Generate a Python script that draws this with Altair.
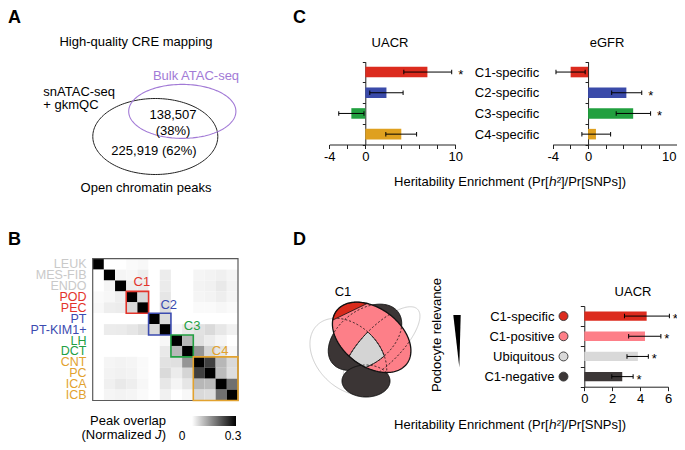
import math
import altair as alt
import pandas as pd

FONT = "Liberation Sans, Arial, Helvetica, sans-serif"
W, H = 669, 434          # plot area (page adds an 8px margin)
M = 8                    # image px -> chart px offset

# ======================= DATA =======================
# ---- Panel A (Venn counts) ----
a_title = "High-quality CRE mapping"
a_sn_label = ["snATAC-seq", "+ gkmQC"]
a_bulk_label = "Bulk ATAC-seq"
a_overlap = ["138,507", "(38%)"]
a_only = "225,919 (62%)"
a_footer = "Open chromatin peaks"

# ---- Panel B (peak overlap heatmap) ----
cell_types = ["LEUK", "MES-FIB", "ENDO", "POD", "PEC", "PT", "PT-KIM1+",
              "LH", "DCT", "CNT", "PC", "ICA", "ICB"]
cell_groups = ["none", "none", "none", "C1", "C1", "C2", "C2",
               "C3", "C3", "C4", "C4", "C4", "C4"]
overlap = [
    [1.0, 0.0, 0.0, .006, .008, 0.0, 0.0, 0.0, 0.0, 0.0, 0.0, 0.0, 0.0],
    [0.0, 1.0, .012, .010, .020, 0.0, .022, 0.0, 0.0, .012, .014, .018, .012],
    [0.0, .012, 1.0, .020, .022, 0.0, .024, 0.0, 0.0, .014, .016, .026, .014],
    [.006, .010, .020, 1.0, .046, 0.0, .030, 0.0, 0.0, .012, .014, .020, .012],
    [.008, .020, .022, .046, 1.0, 0.0, .040, 0.0, 0.0, .006, .006, .010, .006],
    [0.0, 0.0, 0.0, 0.0, 0.0, 1.0, .042, 0.0, 0.0, 0.0, 0.0, 0.0, 0.0],
    [0.0, .022, .024, .030, .040, .042, 1.0, .010, .026, .034, .044, .028, .016],
    [0.0, 0.0, 0.0, 0.0, 0.0, 0.0, .010, 1.0, .084, .036, .022, .012, 0.0],
    [0.0, 0.0, 0.0, 0.0, 0.0, 0.0, .026, .084, 1.0, .125, .050, .030, .008],
    [0.0, .012, .014, .012, .006, 0.0, .034, .036, .125, 1.0, .225, .085, .045],
    [0.0, .014, .016, .014, .006, 0.0, .044, .022, .050, .225, 1.0, .080, .040],
    [0.0, .018, .026, .020, .010, 0.0, .028, .012, .030, .085, .080, 1.0, .168],
    [0.0, .012, .014, .012, .006, 0.0, .016, 0.0, .008, .045, .040, .168, 1.0],
]
clusters = ["C1", "C2", "C3", "C4"]
cluster_start = [3, 5, 7, 9]
cluster_end = [5, 7, 9, 13]
legend_domain = [0, 0.3]
legend_labels = ["0", "0.3"]

# ---- Panel C (heritability enrichment by cluster) ----
c_cats = ["C1-specific", "C2-specific", "C3-specific", "C4-specific"]
uacr_est = [6.90, 2.35, -1.55, 4.00]
uacr_lo = [4.28, 0.50, -2.95, 2.28]
uacr_hi = [9.60, 4.20, -0.15, 5.70]
uacr_sig = [True, False, False, False]
egfr_est = [-1.97, 4.33, 5.10, 0.89]
egfr_lo = [-3.63, 2.67, 3.18, -0.70]
egfr_hi = [-0.33, 6.07, 7.07, 2.55]
egfr_sig = [False, True, True, False]
c_ticks = [-4, -2, 0, 2, 4, 6, 8, 10]
c_tick_labels = [-4, 0, 10]

# ---- Panel D (podocyte relevance) ----
d_cats = ["C1-specific", "C1-positive", "Ubiquitous", "C1-negative"]
d_est = [4.47, 4.35, 3.84, 2.72]
d_lo = [2.88, 3.18, 3.06, 1.97]
d_hi = [6.10, 5.49, 4.59, 3.50]
d_sig = [True, True, True, True]
d_ticks = [0, 2, 4, 6]

x_title = "Heritability Enrichment (Pr[\u210e\u00b2]/Pr[SNPs])"

# ======================= STYLE =======================
C_COLORS = ["#dc2b1e", "#3a4aa9", "#21a03f", "#dfa01f"]
D_COLORS = ["#dc2b1e", "#fd7f88", "#d9d9d9", "#3c3737"]
GROUP_COLORS = {"none": "#c9c9c9", "C1": "#e3342b", "C2": "#3b4bb0",
                "C3": "#22a042", "C4": "#e2a22e"}
CLUSTER_LABEL_POS = [(4.4, 2.1), (6.8, 4.2), (8.9, 6.2), (11.4, 8.5)]
PURPLE = "#a27ad6"
DARK = "#3b3535"
PINK = "#fd7f88"
RED = "#d92b1c"

ONE = pd.DataFrame({"k": [0]})


def txt(s, x, y, size=13, align="center", color="#000000", weight="normal",
        style="normal", angle=0, baseline="middle"):
    kw = dict(text=s, font=FONT, fontSize=size, align=align, baseline=baseline,
              color=color, fontWeight=weight, fontStyle=style)
    if angle:
        kw["angle"] = angle
    return alt.Chart(ONE).mark_text(**kw).encode(x=alt.value(x - M), y=alt.value(y - M))


# ---------------- geometry helpers for the schematic shapes ----------------
def ell_pts(e, n=240):
    cx, cy, a, b, ang = e
    t = math.radians(ang)
    c, s = math.cos(t), math.sin(t)
    out = []
    for i in range(n):
        th = 2 * math.pi * i / n
        x, y = a * math.cos(th), b * math.sin(th)
        out.append((cx + x * c - y * s, cy + x * s + y * c))
    return out


def inside(e, p, tol=0.0):
    cx, cy, a, b, ang = e
    t = math.radians(ang)
    c, s = math.cos(t), math.sin(t)
    dx, dy = p[0] - cx, p[1] - cy
    u = dx * c + dy * s
    v = -dx * s + dy * c
    return (u / a) ** 2 + (v / b) ** 2 <= 1.0 + tol


def intersect(ells, n=480):
    pts = []
    for i, e in enumerate(ells):
        for p in ell_pts(e, n):
            if all(inside(f, p, 1e-9) for j, f in enumerate(ells) if j != i):
                pts.append(p)
    if not pts:
        return []
    mx = sum(p[0] for p in pts) / len(pts)
    my = sum(p[1] for p in pts) / len(pts)
    pts.sort(key=lambda p: math.atan2(p[1] - my, p[0] - mx))
    return pts


def runs_where(pts, cond):
    flags = [cond(p) for p in pts]
    if all(flags):
        return [pts + [pts[0]]]
    k = flags.index(False)
    pts = pts[k:] + pts[:k]
    flags = flags[k:] + flags[:k]
    runs, cur = [], []
    for p, f in zip(pts, flags):
        if f:
            cur.append(p)
        elif cur:
            runs.append(cur)
            cur = []
    if cur:
        runs.append(cur)
    return [r for r in runs if len(r) > 1]


def path_from(polys, anchor, scale, closed=True):
    parts = []
    for poly in polys:
        seg = "M " + " L ".join(
            f"{(x - anchor[0]) / scale:.4f} {(y - anchor[1]) / scale:.4f}" for x, y in poly)
        if closed:
            seg += " Z"
        parts.append(seg)
    return " ".join(parts)


def shape_layer(path, anchor, scale, fill=None, stroke=None, sw=1.0, dash=None):
    kw = dict(shape=path, size=(2 * scale) ** 2, opacity=1)
    if fill:
        kw.update(filled=True, fill=fill)
    else:
        kw.update(filled=False)
    if stroke:
        kw.update(stroke=stroke, strokeWidth=sw)
    else:
        kw.update(strokeWidth=0)
    if dash:
        kw["strokeDash"] = dash
    return alt.Chart(ONE).mark_point(**kw).encode(
        x=alt.value(anchor[0] - M), y=alt.value(anchor[1] - M))


layers = []

# ======================= PANEL A =======================
layers += [
    txt("A", 8, 22.5, size=18, align="left", weight="bold", baseline="alphabetic"),
    txt(a_title, 136, 42),
    txt(a_sn_label[0], 43.3, 91.7, align="left"),
    txt(a_sn_label[1], 43.3, 105, align="left"),
    txt(a_bulk_label, 196, 76, color=PURPLE),
]
A_BLACK = (155.3, 136.5, 62.5, 38.0, 0)
A_PURPLE = (182.3, 111.4, 53.6, 27.0, 0)
for e, col, sw in [(A_BLACK, "#222222", 1.0), (A_PURPLE, PURPLE, 1.1)]:
    anc = (e[0], e[1])
    layers.append(shape_layer(path_from([ell_pts(e, 160)], anc, e[2]), anc, e[2],
                              stroke=col, sw=sw))
layers += [
    txt(a_overlap[0], 173, 115),
    txt(a_overlap[1], 173, 131),
    txt(a_only, 154, 151),
    txt(a_footer, 146, 188),
]

# ======================= PANEL B =======================
n = len(cell_types)
hm_df = pd.DataFrame([
    {"row": cell_types[i], "col": cell_types[j], "x0": j, "x1": j + 1,
     "y0": i, "y1": i + 1, "v": overlap[i][j]}
    for i in range(n) for j in range(n)])
rows_df = pd.DataFrame({"name": cell_types, "group": cell_groups, "idx": list(range(n))})
cl_df = pd.DataFrame({"cluster": clusters, "s": cluster_start, "e": cluster_end,
                      "lx": [p[0] for p in CLUSTER_LABEL_POS],
                      "ly": [p[1] for p in CLUSTER_LABEL_POS]})
frame_df = pd.DataFrame({"s": [0], "e": [n]})

hm_x = alt.Scale(domain=[0, n], range=[92.7 - M, 238.0 - M], nice=False, zero=False)
hm_y = alt.Scale(domain=[0, n], range=[258.7 - M, 400.5 - M], nice=False, zero=False)
HX = lambda f: alt.X(f, scale=hm_x, axis=None)
HY = lambda f: alt.Y(f, scale=hm_y, axis=None)

hm_layers = [
    alt.Chart(hm_df).mark_rect().encode(
        x=HX("x0:Q"), x2="x1:Q", y=HY("y0:Q"), y2="y1:Q",
        color=alt.Color("v:Q", scale=alt.Scale(domain=legend_domain, range=["#ffffff", "#000000"],
                                               clamp=True, interpolate="rgb"), legend=None)),
    alt.Chart(frame_df).mark_rect(fillOpacity=0, stroke="#5a5a5a", strokeWidth=1.2).encode(
        x=HX("s:Q"), x2="e:Q", y=HY("s:Q"), y2="e:Q"),
]
for g, col in GROUP_COLORS.items():
    hm_layers.append(
        alt.Chart(rows_df).transform_filter(alt.datum.group == g)
        .transform_calculate(yc="datum.idx + 0.5")
        .mark_text(align="right", baseline="middle", font=FONT, fontSize=12.5, color=col)
        .encode(x=alt.value(86.5 - M), y=HY("yc:Q"), text="name:N"))
for cl in clusters:
    col = GROUP_COLORS[cl]
    hm_layers.append(
        alt.Chart(cl_df).transform_filter(alt.datum.cluster == cl)
        .mark_rect(fillOpacity=0, stroke=col, strokeWidth=1.6)
        .encode(x=HX("s:Q"), x2="e:Q", y=HY("s:Q"), y2="e:Q"))
    hm_layers.append(
        alt.Chart(cl_df).transform_filter(alt.datum.cluster == cl)
        .mark_text(font=FONT, fontSize=13, color=col, baseline="middle")
        .encode(x=HX("lx:Q"), y=HY("ly:Q"), text="cluster:N"))
layers.append(alt.layer(*hm_layers))

# colour legend (gradient of the heatmap scale)
layers += [
    alt.Chart(ONE).mark_rect(color=alt.LinearGradient(
        gradient="linear",
        stops=[alt.GradientStop(color="#ffffff", offset=0), alt.GradientStop(color="#000000", offset=1)],
        x1=0, x2=1, y1=0, y2=0)).encode(
        x=alt.value(192 - M), x2=alt.value(236 - M), y=alt.value(416 - M), y2=alt.value(426 - M)),
    txt("B", 8, 245, size=18, align="left", weight="bold", baseline="alphabetic"),
    txt("Peak overlap", 166, 421, align="right"),
    txt("(Normalized", 151.5, 435, align="right"),
    txt("J", 158.3, 435, style="italic"),
    txt(")", 161.7, 435, align="left"),
    txt(legend_labels[0], 182, 436, size=12),
    txt(legend_labels[1], 233, 436, size=12),
]


# ======================= BAR PANELS =======================
def bar_panel(cats, est, lo, hi, sig, colors, x_dom, x_px, y_px, ticks, shown, band,
              ykw, star_dx, tick_y=3):
    df = pd.DataFrame({"cat": cats, "est": est, "lo": lo, "hi": hi, "sig": sig})
    xs = alt.Scale(domain=x_dom, range=[x_px[0] - M, x_px[1] - M], nice=False, zero=False)
    ys = alt.Scale(domain=cats, range=[y_px[0] - M, y_px[1] - M], paddingInner=0, paddingOuter=0)
    zero_px = x_px[0] + (0 - x_dom[0]) / (x_dom[1] - x_dom[0]) * (x_px[1] - x_px[0])
    test = " || ".join(f"datum.value == {v}" for v in shown)
    xaxis = alt.Axis(orient="bottom", offset=(y_px[1] - M) - H, values=ticks,
                     labelExpr=f"({test}) ? replace(datum.label, '\u2212', '-') : ''",
                     title=None, tickSize=4, labelPadding=2, labelFontSize=13, labelFont=FONT,
                     labelColor="#000000", domainColor="#222222", tickColor="#222222",
                     grid=False, labelFlush=False, labelOverlap=False)
    yaxis = alt.Axis(orient="left", offset=-(zero_px - M), title=None, tickBand="extent",
                     tickSize=tick_y, domainColor="#222222", tickColor="#222222", grid=False,
                     labelFont=FONT, labelFontSize=13, labelColor="#000000", **ykw)
    X = lambda f: alt.X(f, scale=xs, axis=xaxis)
    Y = alt.Y("cat:N", scale=ys, axis=yaxis)
    color = alt.Color("cat:N", scale=alt.Scale(domain=cats, range=colors), legend=None)
    bars = alt.Chart(df).mark_bar(height=alt.RelativeBandSize(band=band)).encode(
        x=X("est:Q"), x2=alt.X2(datum=0), y=Y, color=color)
    rule = alt.Chart(df).mark_rule(color="#000000", strokeWidth=1).encode(
        x=X("lo:Q"), x2=alt.X2("hi:Q"), y=Y)
    caps = alt.Chart(df).transform_fold(["lo", "hi"], as_=["kind", "val"]).mark_tick(
        orient="vertical", size=4.5, thickness=1, color="#000000", opacity=1).encode(
        x=X("val:Q"), y=Y)
    stars = alt.Chart(df).transform_filter("datum.sig").mark_text(
        text="*", dx=star_dx, dy=3, fontSize=13, font=FONT, color="#000000").encode(
        x=X("hi:Q"), y=Y)
    return [bars, rule, caps, stars], df, Y, color


# ---- Panel C ----
EGFR_X = [552.7, 676.5]
uacr, _, _, _ = bar_panel(c_cats, uacr_est, uacr_lo, uacr_hi, uacr_sig, C_COLORS,
                          [-4, 10], [329.3, 455.3], [61.7, 144.5], c_ticks, c_tick_labels,
                          0.51, dict(labels=False), 9)
egfr, _, _, _ = bar_panel(c_cats, egfr_est, egfr_lo, egfr_hi, egfr_sig, C_COLORS,
                          [-4, 10], EGFR_X, [61.7, 144.5], c_ticks, c_tick_labels[:-1],
                          0.51, dict(labels=True, labelAlign="left", labelPadding=110.7,
                                     labelBaseline="middle"), 9)
layers += [alt.layer(*uacr), alt.layer(*egfr)]
layers += [
    # right-most eGFR tick label, right-aligned so it stays inside the page
    txt(str(c_tick_labels[-1]), EGFR_X[1], 150.5, align="right", baseline="top"),
    txt("C", 293, 22.5, size=18, align="left", weight="bold", baseline="alphabetic"),
    txt("UACR", 390, 43),
    txt("eGFR", 607, 43),
    txt(x_title, 510, 182),
]

# ---- Panel D bars ----
dl, ddf, DY, dcol = bar_panel(d_cats, d_est, d_lo, d_hi, d_sig, D_COLORS,
                              [0, 6], [584.3, 668.0], [306.0, 386.7], d_ticks, d_ticks,
                              0.46, dict(labels=True, labelPadding=26.3), 6, tick_y=4)
circles = alt.Chart(ddf).mark_point(filled=True, size=80, opacity=1, stroke="#333333",
                                    strokeWidth=0.9).encode(
    x=alt.value(563.5 - M), y=DY, color=dcol)
layers.append(alt.layer(*(dl + [circles])))
layers += [
    txt("D", 293, 245, size=18, align="left", weight="bold", baseline="alphabetic"),
    txt("UACR", 633, 292),
    txt(x_title, 510, 425),
    txt("C1", 343, 292),
    txt("Podocyte relevance", 437, 335, angle=270),
]


# ---- Panel D schematic 4-set Venn (sketch units: 3 per px) ----
def Z(x, y):
    return (290 + x / 3.0, 250 + y / 3.0)


def ell(cx, cy, a, b, ang):
    X_, Y_ = Z(cx, cy)
    return (X_, Y_, a / 3.0, b / 3.0, ang)


VA = ell(175, 320, 133, 94, 45)
VB = ell(245, 262, 132, 87, 37)     # C1 (pink)
VC = ell(225, 262, 125, 80, -38)
VD = ell(275, 285, 152, 57, -45)
VE = ell(228, 393, 72, 48, 0)
R1, R2 = Z(135, 208), Z(228, 163)   # edge of the C1-specific (red) region
ANC = Z(225, 300)
SC = 60.0


def red_side(p):
    cr = lambda q: (R2[0] - R1[0]) * (q[1] - R1[1]) - (R2[1] - R1[1]) * (q[0] - R1[0])
    return cr(p) * cr((VB[0], VB[1])) < 0


for e in (VA, VD):
    layers.append(shape_layer(path_from([ell_pts(e)], ANC, SC), ANC, SC,
                              stroke="#cfcfcf", sw=1.0))
for e in (VC, VE):
    layers.append(shape_layer(path_from([ell_pts(e)], ANC, SC), ANC, SC,
                              fill=DARK, stroke="#111111", sw=1.0))
layers.append(shape_layer(path_from([ell_pts(VB)], ANC, SC), ANC, SC, fill=PINK))
red_runs = runs_where(ell_pts(VB, 480), red_side)
if red_runs:
    layers.append(shape_layer(path_from([max(red_runs, key=len)], ANC, SC), ANC, SC,
                              fill=RED, stroke="#111111", sw=0.8))
gray = intersect([VA, VB, VC, VD])
if gray:
    layers.append(shape_layer(path_from([gray], ANC, SC), ANC, SC,
                              fill="#d4d4d4", stroke="#111111", sw=1.0))
dashed = []
for e in (VA, VC, VD, VE):
    dashed += runs_where(ell_pts(e, 480), lambda p: inside(VB, p, -0.03) and not red_side(p))
if dashed:
    layers.append(shape_layer(path_from(dashed, ANC, SC, closed=False), ANC, SC,
                              stroke="#111111", sw=0.9, dash=[2, 2]))
layers.append(shape_layer(path_from([ell_pts(VB)], ANC, SC), ANC, SC,
                          stroke="#111111", sw=1.3))

# wedge showing decreasing podocyte relevance
TRI_ANC = (457.0, 341.0)
tri = [(453.3, 315.0), (460.7, 315.0), (459.3, 367.3)]
layers.append(shape_layer(path_from([tri], TRI_ANC, 26.0), TRI_ANC, 26.0, fill="#000000"))

# ======================= COMPOSE =======================
chart = (
    alt.layer(*layers)
    .resolve_scale(x="independent", y="independent", color="independent")
    .properties(width=W, height=H, padding=0, autosize=alt.AutoSizeParams(type="none"))
    .configure_view(strokeWidth=0, stroke="transparent")
    .configure_axis(grid=False)
)
chart.save("out.html", embed_options={"renderer": "svg", "actions": False})
